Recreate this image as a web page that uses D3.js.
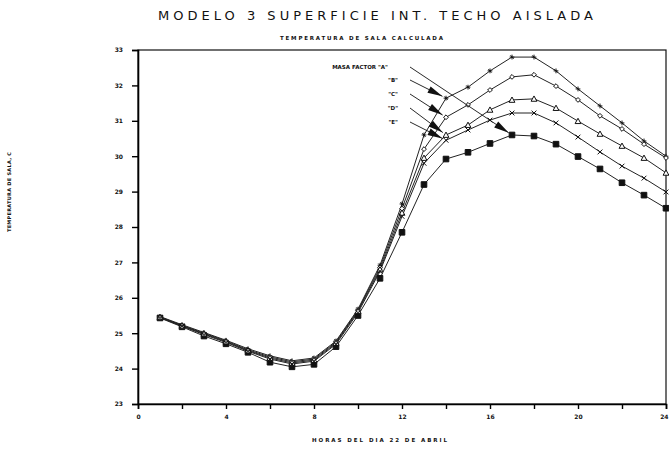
<!DOCTYPE html>
<html>
<head>
<meta charset="utf-8">
<script src="https://cdn.jsdelivr.net/npm/d3@7"></script>
<style>
  body { margin: 0; background: #fff; }
  svg { display: block; }
  text { font-family: "DejaVu Sans", sans-serif; fill: #111; }
</style>
</head>
<body>
<div id="chart"></div>
<script>
// hours of the day (x) and room temperature per series (y)
const hours = [1,2,3,4,5,6,7,8,9,10,11,12,13,14,15,16,17,18,19,20,21,22,23,24];
const serieA = [25.43,25.18,24.92,24.70,24.46,24.18,24.05,24.12,24.62,25.50,26.55,27.85,29.20,29.92,30.11,30.36,30.60,30.57,30.34,29.99,29.64,29.25,28.90,28.53];
const serieB = [25.47,25.24,25.02,24.80,24.56,24.36,24.22,24.30,24.78,25.68,26.92,28.65,30.60,31.64,31.95,32.41,32.80,32.80,32.41,31.90,31.42,30.94,30.43,30.00];
const serieC = [25.46,25.22,25.00,24.78,24.53,24.33,24.19,24.27,24.75,25.65,26.86,28.52,30.20,31.10,31.45,31.87,32.24,32.30,31.98,31.59,31.14,30.77,30.34,29.95];
const serieD = [25.45,25.21,24.98,24.76,24.51,24.30,24.16,24.24,24.72,25.62,26.80,28.40,29.95,30.60,30.88,31.31,31.59,31.62,31.36,30.99,30.63,30.29,29.95,29.53];
const serieE = [25.44,25.20,24.96,24.74,24.49,24.27,24.13,24.21,24.69,25.58,26.75,28.30,29.80,30.45,30.74,31.02,31.22,31.22,30.94,30.54,30.12,29.72,29.38,28.99];
const legendLabels = ['MASA FACTOR "A"', '"B"', '"C"', '"D"', '"E"'];
const arrowHours = [17, 14, 14, 14, 14];
const xTickLabels = [0, 4, 8, 12, 16, 20, 24];
const yTickLabels = [23, 24, 25, 26, 27, 28, 29, 30, 31, 32, 33];

const series = [
  { name: "A", values: serieA, marker: "square" },
  { name: "B", values: serieB, marker: "star" },
  { name: "C", values: serieC, marker: "diamond" },
  { name: "D", values: serieD, marker: "triangle" },
  { name: "E", values: serieE, marker: "cross" }
];

const W = 669, H = 449;
const svg = d3.select("#chart").append("svg").attr("width", W).attr("height", H);

const x = d3.scaleLinear().domain([0, 24]).range([138, 666]);
const y = d3.scaleLinear().domain([23, 33]).range([404, 50]);

// titles
svg.append("text").attr("x", 158).attr("y", 20)
  .attr("font-size", 13).attr("textLength", 435).attr("lengthAdjust", "spacing")
  .text("MODELO 3   SUPERFICIE INT. TECHO AISLADA");
svg.append("text").attr("x", 280).attr("y", 40)
  .attr("font-size", 5.5).attr("font-weight", "bold").attr("textLength", 163).attr("lengthAdjust", "spacing")
  .text("TEMPERATURA DE SALA CALCULADA");
svg.append("text").attr("transform", "translate(11,232) rotate(-90)")
  .attr("font-size", 5).attr("font-weight", "bold").attr("textLength", 80).attr("lengthAdjust", "spacing")
  .text("TEMPERATURA DE SALA, C");
svg.append("text").attr("x", 312).attr("y", 442)
  .attr("font-size", 5.5).attr("font-weight", "bold").attr("textLength", 135).attr("lengthAdjust", "spacing")
  .text("HORAS DEL DIA 22 DE ABRIL");

// frame
svg.append("rect").attr("x", x(0)).attr("y", y(33))
  .attr("width", x(24) - x(0)).attr("height", y(23) - y(33))
  .attr("fill", "none").attr("stroke", "#111").attr("stroke-width", 1.2);

// axes
const yAxis = d3.axisLeft(y).tickValues(yTickLabels).tickSize(6).tickPadding(9).tickFormat(d3.format("d"));
const gy = svg.append("g").attr("transform", `translate(${x(0)},0)`).call(yAxis);
gy.select(".domain").attr("stroke-width", 1.6);
gy.selectAll(".tick line").attr("stroke-width", 1.4);
gy.selectAll("text").attr("font-size", 6).attr("font-weight", "bold").attr("font-family", "DejaVu Sans");

const xAxis = d3.axisBottom(x).tickValues(d3.range(0, 25, 2)).tickSize(5).tickPadding(6)
  .tickFormat(d => xTickLabels.includes(d) ? d : "");
const gx = svg.append("g").attr("transform", `translate(0,${y(23)})`).call(xAxis);
gx.select(".domain").attr("stroke-width", 1.6);
gx.selectAll(".tick line").attr("stroke-width", 1.4);
gx.selectAll("text").attr("font-size", 6).attr("font-weight", "bold").attr("font-family", "DejaVu Sans");
gx.selectAll(".tick").filter(d => d === 24).select("text").attr("text-anchor", "end").attr("dx", 2);

// lines
const line = d3.line().x((d, i) => x(hours[i])).y(d => y(d));
series.forEach(s => {
  svg.append("path").datum(s.values).attr("d", line)
    .attr("fill", "none").attr("stroke", "#222").attr("stroke-width", 1);
});

// markers
function markerPath(type) {
  const r = 2.4;
  switch (type) {
    case "square": return `M${-r-0.4},${-r-0.4}h${2*r+0.8}v${2*r+0.8}h${-2*r-0.8}Z`;
    case "diamond": return `M0,${-r}L${r},0L0,${r}L${-r},0Z`;
    case "triangle": return `M0,${-r-0.5}L${r+0.5},${r}L${-r-0.5},${r}Z`;
    case "cross": return `M${-r},${-r}L${r},${r}M${r},${-r}L${-r},${r}`;
    case "star": return `M${-r},0H${r}M0,${-r}V${r}M${-r*0.7},${-r*0.7}L${r*0.7},${r*0.7}`;
  }
}
series.forEach(s => {
  svg.append("g").selectAll("path").data(s.values).join("path")
    .attr("transform", (d, i) => `translate(${x(hours[i])},${y(d)})`)
    .attr("d", markerPath(s.marker))
    .attr("fill", s.marker === "square" ? "#111" : (s.marker === "diamond" || s.marker === "triangle" ? "#fff" : "none"))
    .attr("stroke", "#111").attr("stroke-width", 1);
});

// legend labels with arrows pointing to the curves
const labelY = [69, 82, 96, 110, 124];
const order = ["A", "B", "C", "D", "E"];
order.forEach((k, i) => {
  const s = series.find(d => d.name === k);
  const lx = i === 0 ? 388 : 398;
  svg.append("text").attr("x", lx).attr("y", labelY[i]).attr("text-anchor", "end")
    .attr("font-size", 5.5).attr("font-weight", "bold").text(legendLabels[i]);
  const x0 = 410, y0 = labelY[i] - 2;
  const hi = hours.indexOf(arrowHours[i]);
  const tx = x(arrowHours[i]), ty = y(s.values[hi]);
  const ang = Math.atan2(ty - y0, tx - x0);
  const ex = tx - 4 * Math.cos(ang), ey = ty - 4 * Math.sin(ang);
  svg.append("line").attr("x1", x0).attr("y1", y0).attr("x2", ex).attr("y2", ey)
    .attr("stroke", "#111").attr("stroke-width", 0.9);
  const L = 15, w = 3.6;
  const bx = ex - L * Math.cos(ang), by = ey - L * Math.sin(ang);
  const px = -Math.sin(ang) * w, py = Math.cos(ang) * w;
  svg.append("path")
    .attr("d", `M${ex},${ey}L${bx + px},${by + py}L${bx - px},${by - py}Z`)
    .attr("fill", "#111");
});
</script>
</body>
</html>
